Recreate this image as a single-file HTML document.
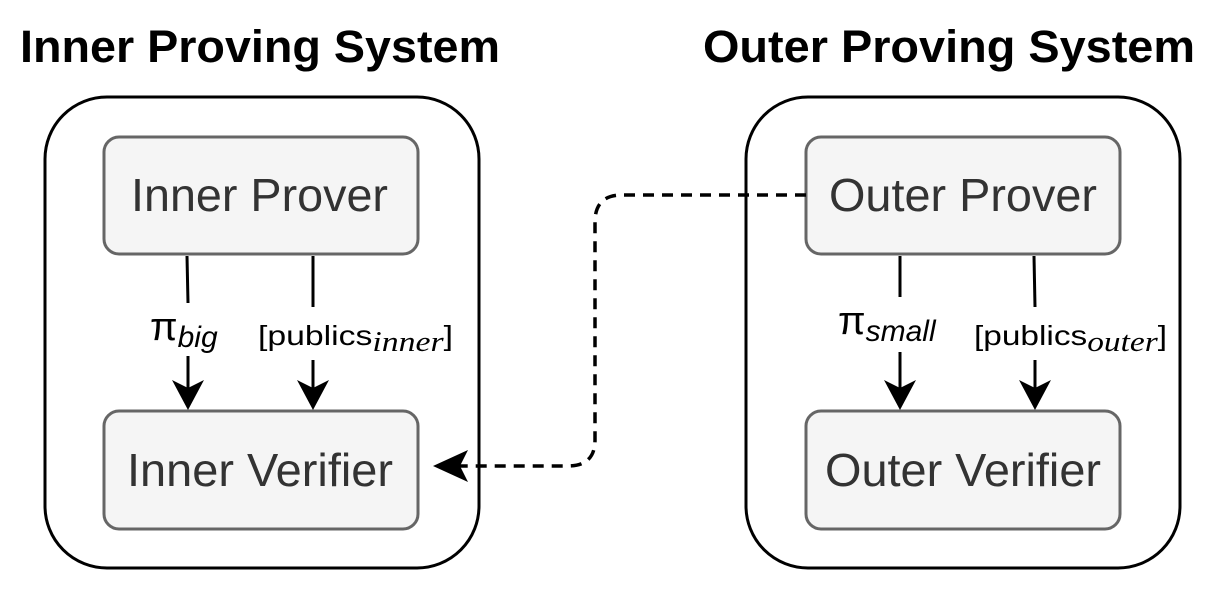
<!DOCTYPE html>
<html><head><style>
body{margin:0;background:#fff;}
svg text{font-family:"Liberation Sans",sans-serif;}
</style></head><body>
<svg width="1213" height="591" viewBox="0 0 1213 591" xmlns="http://www.w3.org/2000/svg">
<text x="20" y="62" font-size="45" font-weight="bold" fill="#000" textLength="480" lengthAdjust="spacingAndGlyphs">Inner Proving System</text>
<text x="703" y="62" font-size="45" font-weight="bold" fill="#000" textLength="492" lengthAdjust="spacingAndGlyphs">Outer Proving System</text>
<rect x="45" y="97" width="434" height="471" rx="62" fill="#fff" stroke="#000" stroke-width="3"/>
<rect x="746" y="97" width="434" height="471" rx="62" fill="#fff" stroke="#000" stroke-width="3"/>
<g fill="#f5f5f5" stroke="#666" stroke-width="3">
<rect x="104" y="137" width="314" height="117" rx="15"/>
<rect x="104" y="411" width="314" height="118" rx="15"/>
<rect x="806" y="137" width="314" height="117" rx="15"/>
<rect x="806" y="411" width="314" height="118" rx="15"/>
</g>
<g font-size="46" fill="#333">
<text x="131" y="211" textLength="257" lengthAdjust="spacingAndGlyphs">Inner Prover</text>
<text x="127" y="486" textLength="266" lengthAdjust="spacingAndGlyphs">Inner Verifier</text>
<text x="829" y="211" textLength="268" lengthAdjust="spacingAndGlyphs">Outer Prover</text>
<text x="825" y="486" textLength="276" lengthAdjust="spacingAndGlyphs">Outer Verifier</text>
</g>
<g stroke="#000" stroke-width="3" fill="none">
<line x1="187" y1="256" x2="188" y2="303"/>
<line x1="188" y1="356" x2="188" y2="392"/>
<line x1="313" y1="256" x2="313" y2="307"/>
<line x1="313" y1="360" x2="313" y2="392"/>
<line x1="900" y1="256" x2="900" y2="297"/>
<line x1="900" y1="352" x2="900" y2="392"/>
<line x1="1034" y1="256" x2="1035" y2="307"/>
<line x1="1035" y1="360" x2="1035" y2="392"/>
<path d="M806 195 H622 Q595 195 595 222 V440 Q595 466 568 466 H458" stroke-dasharray="11 8" stroke-width="3.5"/>
</g>
<g fill="#000">
<polygon points="188,410 172,380 188,388 204,380"/>
<polygon points="313,410 297,380 313,388 329,380"/>
<polygon points="900,410 884,380 900,388 916,380"/>
<polygon points="1035,410 1019,380 1035,388 1051,380"/>
<polygon points="433,466 468,450 460,466 468,482"/>
</g>
<text x="150" y="340" font-size="40" font-family="Liberation Serif,serif" fill="#000">π<tspan font-size="30" font-style="italic" dy="7">big</tspan></text>
<text x="258" y="345" font-size="28" fill="#000" textLength="195" lengthAdjust="spacingAndGlyphs">[publics<tspan font-family="Liberation Serif,serif" font-style="italic" dy="6">inner</tspan><tspan dy="-6">]</tspan></text>
<text x="838" y="334" font-size="40" font-family="Liberation Serif,serif" fill="#000">π<tspan font-size="30" font-style="italic" dy="7">small</tspan></text>
<text x="974" y="345" font-size="28" fill="#000" textLength="193" lengthAdjust="spacingAndGlyphs">[publics<tspan font-family="Liberation Serif,serif" font-style="italic" dy="6">outer</tspan><tspan dy="-6">]</tspan></text>
</svg>
</body></html>
